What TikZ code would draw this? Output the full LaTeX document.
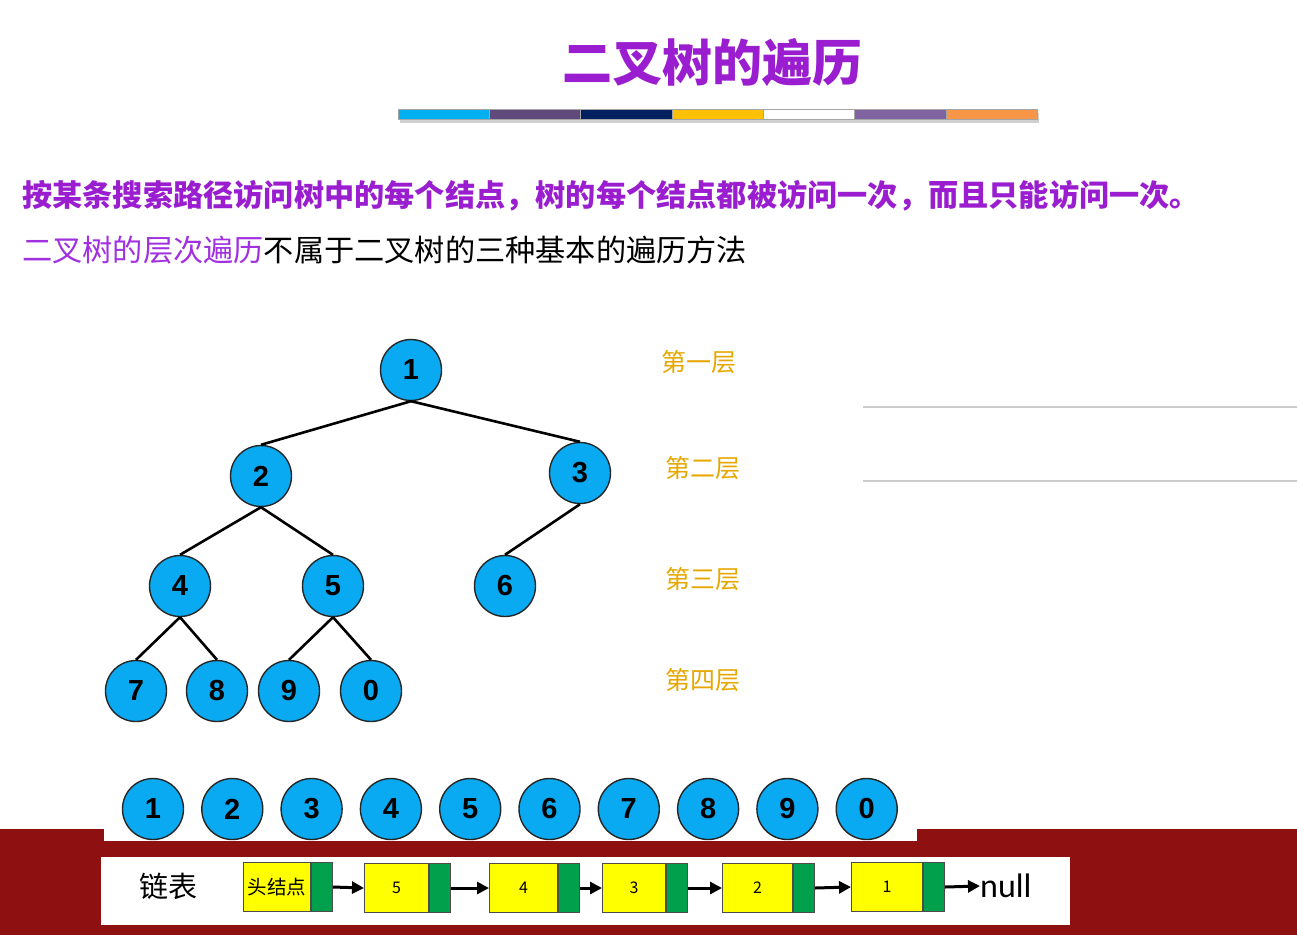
\documentclass[tikz,border=0pt]{standalone}
\usepackage{fontspec}
\setmainfont{Noto Sans CJK SC}
\newfontfamily\digitfont{Liberation Sans}
\newfontfamily\calfont{Carlito}
\usetikzlibrary{positioning,arrows.meta}
\definecolor{ttl}{HTML}{9A1ED0}
\definecolor{lvl}{HTML}{A030E0}
\definecolor{ball}{HTML}{0AAAF2}
\definecolor{gold}{HTML}{E6A800}
\definecolor{band}{HTML}{8E1010}
\definecolor{yel}{HTML}{FFFF00}
\definecolor{grn}{HTML}{00A04C}
\definecolor{barA}{HTML}{00B0F0}
\definecolor{barB}{HTML}{604A7B}
\definecolor{barC}{HTML}{002060}
\definecolor{barD}{HTML}{FFC000}
\definecolor{barE}{HTML}{FFFFFF}
\definecolor{barF}{HTML}{8064A2}
\definecolor{barG}{HTML}{F79646}
\tikzset{
  ball/.style={circle,draw=black!85,line width=1.4pt,fill=ball,minimum size=61pt,
    inner sep=0pt,font=\digitfont\bfseries\fontsize{29}{29}\selectfont},
  floor/.style={text=gold,font=\fontsize{25}{25}\selectfont},
  edge/.style={line width=2.6pt},
  datum/.style={draw=black!70,line width=1pt,fill=yel,minimum height=49pt,
    inner sep=0pt,font=\fontsize{16}{16}\selectfont},
  ptr/.style={draw=black!70,line width=1pt,fill=grn,minimum width=21pt,
    minimum height=49pt,inner sep=0pt},
  link/.style={-{Triangle[length=12pt,width=12pt]},line width=3pt}
}
\begin{document}
\begin{tikzpicture}[x=1pt,y=-1pt]
  \useasboundingbox (0,0) rectangle (1297,935);
  \fill[white] (0,0) rectangle (1297,935);

  \node[text=ttl,font=\bfseries\fontsize{50}{50}\selectfont] (title) at (712,63) {二叉树的遍历};
  \foreach \c [count=\i from 0] in {barA,barB,barC,barD,barE,barF,barG}
  {
    \fill[black!30,opacity=.6] (398+91.3*\i+2,113) rectangle ++(91.3,10);
    \filldraw[fill=\c,draw=black!35,line width=.6pt] (398+91.3*\i,109) rectangle ++(91.3,10);
  }

  \node[anchor=west,text=ttl,font=\bfseries\fontsize{30.2}{30.2}\selectfont,inner sep=0pt] (rule) at (22,196)
    {按某条搜索路径访问树中的每个结点，树的每个结点都被访问一次，而且只能访问一次。};
  \node[anchor=west,font=\fontsize{30.2}{30.2}\selectfont,inner sep=0pt] (note) at (22,250)
    {\textcolor{lvl}{二叉树的层次遍历}不属于二叉树的三种基本的遍历方法};

  \path
  (411,370) node[ball] (n1) {1}
  (261,476) node[ball] (n2) {2}
  (580,473) node[ball] (n3) {3}
  (180,586) node[ball] (n4) {4}
  (333,586) node[ball] (n5) {5}
  (505,586) node[ball] (n6) {6}
  (136,691) node[ball] (n7) {7}
  (217,691) node[ball] (n8) {8}
  (289,691) node[ball] (n9) {9}
  (371,691) node[ball] (n0) {0}
  ;
  \draw[edge] (n1.south) -- (n2.north);
  \draw[edge] (n1.south) -- (n3.north);
  \draw[edge] (n2.south) -- (n4.north);
  \draw[edge] (n2.south) -- (n5.north);
  \draw[edge] (n3.south) -- (n6.north);
  \draw[edge] (n4.south) -- (n7.north);
  \draw[edge] (n4.south) -- (n8.north);
  \draw[edge] (n5.south) -- (n9.north);
  \draw[edge] (n5.south) -- (n0.north);

  \path
  (699,362) node[floor] (f1) {第一层}
  (703,468) node[floor] (f2) {第二层}
  (703,579) node[floor] (f3) {第三层}
  (703,680) node[floor] (f4) {第四层}
  ;
  \draw[black!20,line width=2pt] (863,407) -- (1297,407);
  \draw[black!20,line width=2pt] (863,481) -- (1297,481);

  \fill[band] (0,829) rectangle (1297,935);
  \fill[white] (104,829) rectangle (917,841);
  \foreach \v [count=\i from 0] in {1,2,3,4,5,6,7,8,9,0}
    \node[ball] (q\v) at (153+79.3*\i,809) {\v};

  \fill[white] (101,857) rectangle (1070,925);
  \node[font=\fontsize{29}{29}\selectfont] (lst) at (168,886) {链表};

  \node[datum,minimum width=67pt,anchor=west,font=\fontsize{19.5}{19.5}\selectfont] (hd) at (243,887) {头结点};
  \node[ptr,right=0pt of hd] (hp) {};
  \node[datum,minimum width=64pt,anchor=west] (d5) at (364,888) {5};
  \node[ptr,right=0pt of d5] (p5) {};
  \node[datum,minimum width=68pt,anchor=west] (d4) at (489,888) {4};
  \node[ptr,right=0pt of d4] (p4) {};
  \node[datum,minimum width=63pt,anchor=west] (d3) at (602,888) {3};
  \node[ptr,right=0pt of d3] (p3) {};
  \node[datum,minimum width=70pt,anchor=west] (d2) at (722,888) {2};
  \node[ptr,right=0pt of d2] (p2) {};
  \node[datum,minimum width=71pt,anchor=west] (d1) at (851,887) {1};
  \node[ptr,right=0pt of d1] (p1) {};
  \node[anchor=west,inner sep=0pt,font=\calfont\fontsize{34}{34}\selectfont] (nil) at (980,886) {null};

  \draw[link] (hp.east) -- (d5.west);
  \draw[link] (p5.east) -- (d4.west);
  \draw[link] (p4.east) -- (d3.west);
  \draw[link] (p3.east) -- (d2.west);
  \draw[link] (p2.east) -- (d1.west);
  \draw[link] (p1.east) -- (nil.west);
\end{tikzpicture}
\end{document}
